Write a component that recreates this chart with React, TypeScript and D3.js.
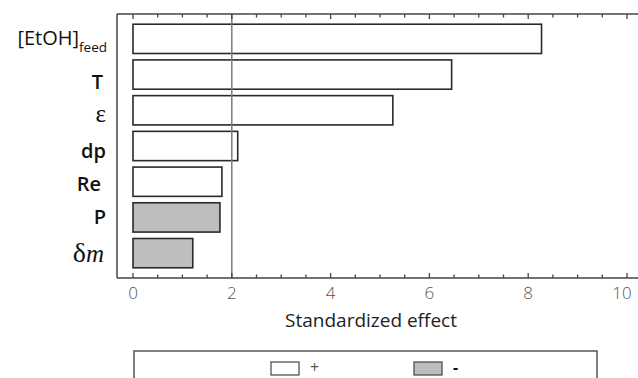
import React from "react";
import * as d3 from "d3";

const categories = ["EtOH", "T", "eps", "dp", "Re", "P", "delta"];
const effects = [8.27, 6.45, 5.26, 2.12, 1.8, 1.76, 1.21];
const signs = ["+", "+", "+", "+", "+", "-", "-"];
const xTicks = [0, 2, 4, 6, 8, 10];
const refValue = 2;
const xLabel = "Standardized effect";
const legendItems = ["+", "-"];

const W = 638;
const H = 378;
const sans = "'Open Sans', 'DejaVu Sans', sans-serif";
const serif = "'Liberation Serif', 'DejaVu Serif', serif";

export default function App() {
  const x = d3.scaleLinear().domain([0, 10]).range([133, 627]);
  const y = d3
    .scaleBand<string>()
    .domain(categories)
    .range([21, 271])
    .paddingInner(0.18)
    .paddingOuter(0.09);
  const left = 117;
  const top = 14;
  const bottom = 278;
  const minor = d3.range(0, 10.5, 0.5);
  const fillFor = (s: string) => (s === "+" ? "#ffffff" : "#bdbec0");
  const axisColor = "#444";
  const nudge: Record<string, number> = { EtOH: 0, T: 7, eps: 6, dp: 5, Re: 2, P: 0, delta: 1 };

  const renderLabel = (c: string) => {
    const cy = (y(c) ?? 0) + y.bandwidth() / 2 + nudge[c];
    const lx = 106;
    if (c === "EtOH")
      return (
        <text key={c} x={lx + 1} y={cy + 6} textAnchor="end" fontFamily={sans} fontSize={20} fill="#111">
          [EtOH]
          <tspan fontSize={13.5} dy={7}>feed</tspan>
        </text>
      );
    if (c === "eps")
      return (
        <text key={c} x={lx} y={cy + 6} textAnchor="end" fontFamily={serif} fontSize={25} fill="#111">
          ε
        </text>
      );
    if (c === "delta")
      return (
        <text key={c} x={lx - 2} y={cy + 8} textAnchor="end" fontFamily={serif} fontSize={28} fill="#111">
          δ<tspan fontStyle="italic" fontSize={25}>m</tspan>
        </text>
      );
    return (
      <text key={c} x={lx - (c === "Re" ? 5 : c === "T" ? 3 : 0)} y={cy + 7} textAnchor="end" fontFamily={sans} fontWeight={600} fontSize={20} fill="#111">
        {c}
      </text>
    );
  };

  return (
    <svg width={W} height={H} style={{ position: "absolute", left: 0, top: 0, background: "#fff" }}>
      {categories.map((c, i) => (
        <rect
          key={c}
          x={x(0)}
          y={y(c)}
          width={x(effects[i]) - x(0)}
          height={y.bandwidth()}
          fill={fillFor(signs[i])}
          stroke="#2a2a2a"
          strokeWidth={1.6}
        />
      ))}
      <line x1={x(refValue)} x2={x(refValue)} y1={top} y2={bottom} stroke="#7a7a7a" strokeWidth={1.5} />
      <line x1={left} x2={W} y1={top} y2={top} stroke={axisColor} strokeWidth={1.5} />
      <line x1={left} x2={W} y1={bottom} y2={bottom} stroke={axisColor} strokeWidth={1.5} />
      <line x1={left} x2={left} y1={top} y2={bottom} stroke={axisColor} strokeWidth={1.5} />
      {minor.map((v) => {
        const major = Math.abs(v % 2) < 1e-6;
        const len = major ? 5 : 3.5;
        return (
          <g key={v}>
            <line x1={x(v)} x2={x(v)} y1={top} y2={top + len} stroke={axisColor} strokeWidth={1.3} />
            <line x1={x(v)} x2={x(v)} y1={bottom} y2={bottom - len} stroke={axisColor} strokeWidth={1.3} />
          </g>
        );
      })}
      {xTicks.map((t) => (
        <text key={t} x={x(t) - (t === 10 ? 5 : 0)} y={299} textAnchor="middle" fontFamily={sans} fontSize={17} fill="#555" fontWeight={300}>
          {t}
        </text>
      ))}
      <text x={371} y={327} textAnchor="middle" fontFamily={sans} fontSize={19} fill="#222">
        {xLabel}
      </text>
      {categories.map(renderLabel)}
      <rect x={134} y={351} width={463} height={40} fill="#fff" stroke="#555" strokeWidth={1.5} />
      {legendItems.map((s, i) => {
        const sx = i === 0 ? 271 : 414;
        return (
          <g key={s}>
            <rect x={sx} y={362} width={28} height={13} fill={fillFor(s)} stroke="#444" strokeWidth={1.2} />
            <text
              x={sx + 39}
              y={373}
              fontFamily={sans}
              fontSize={16}
              fontWeight={s === "+" ? 400 : 700}
              fill={s === "+" ? "#555" : "#111"}
            >
              {s}
            </text>
          </g>
        );
      })}
    </svg>
  );
}
